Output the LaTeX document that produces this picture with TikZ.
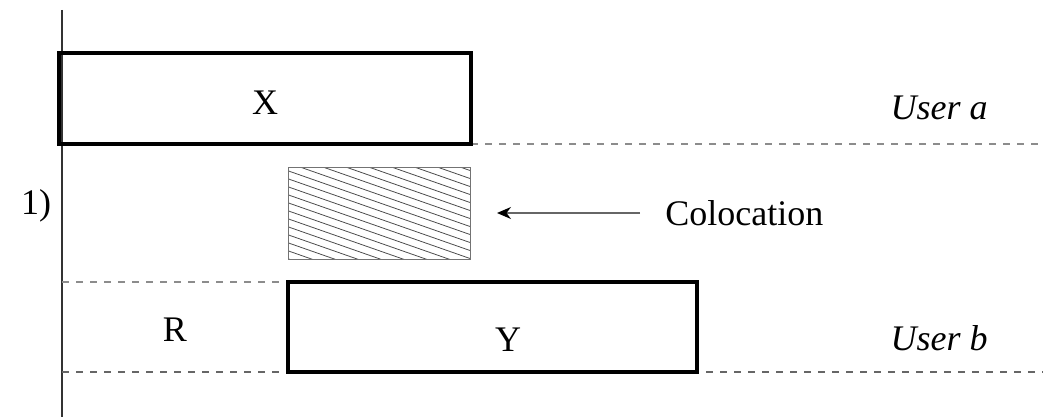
\documentclass[tikz,border=0pt]{standalone}
\usepackage{fontspec}
\setmainfont{Liberation Serif}
\usetikzlibrary{arrows.meta}
\begin{document}
\begin{tikzpicture}[x=0.5pt,y=-0.5pt,
  txt/.style={font=\fontsize{18}{20}\selectfont, inner sep=0pt},
  bar/.style={draw=black, line width=2pt},
  guide/.style={draw=black!45, line width=0.6pt, dash pattern=on 3.5pt off 3.5pt},
  hatch/.style={draw=black!70, line width=0.4pt}]
\useasboundingbox (0,0) rectangle (1043,417);
% time axis
\draw[line width=0.6pt, black!80] (62,10) -- (62,417);
% user rows
\draw[guide] (471,144) -- (1043,144);
\draw[guide] (62,282) -- (288,282);
\draw[guide, draw=black!60] (62,372) -- (1043,372);
% activity bars
\node[bar, minimum width=206pt, minimum height=45.5pt, inner sep=0pt] (X) at (265,98.5) {};
\node[txt] at (265,103) {X};
\node[bar, minimum width=204.5pt, minimum height=45pt, inner sep=0pt] (Y) at (492.5,327) {};
\node[txt] at (508,340) {Y};
% colocation overlap
\coordinate (ha) at (288,167);
\coordinate (hb) at (470,259);
\begin{scope}
  \clip (ha) rectangle (hb);
  \foreach \k in {-80,-72,...,260} {
    \draw[hatch] (280,\k) -- (480,\k+70);
  }
\end{scope}
\draw[draw=black!55, line width=0.5pt] (ha) rectangle (hb);
\node[txt, anchor=west] (col) at (665,213) {Colocation};
\draw[black!60, line width=0.8pt, -{Stealth[length=7pt,width=6pt,black]}] (640,213) -- (497,213);
% labels
\node[txt] (one) at (36,206) {1)};
\node[txt] (R) at (175,330) {R};
\node[txt, anchor=east] (ua) at (988,108) {\itshape User a};
\node[txt, anchor=east] (ub) at (988,338) {\itshape User b};
\end{tikzpicture}
\end{document}
